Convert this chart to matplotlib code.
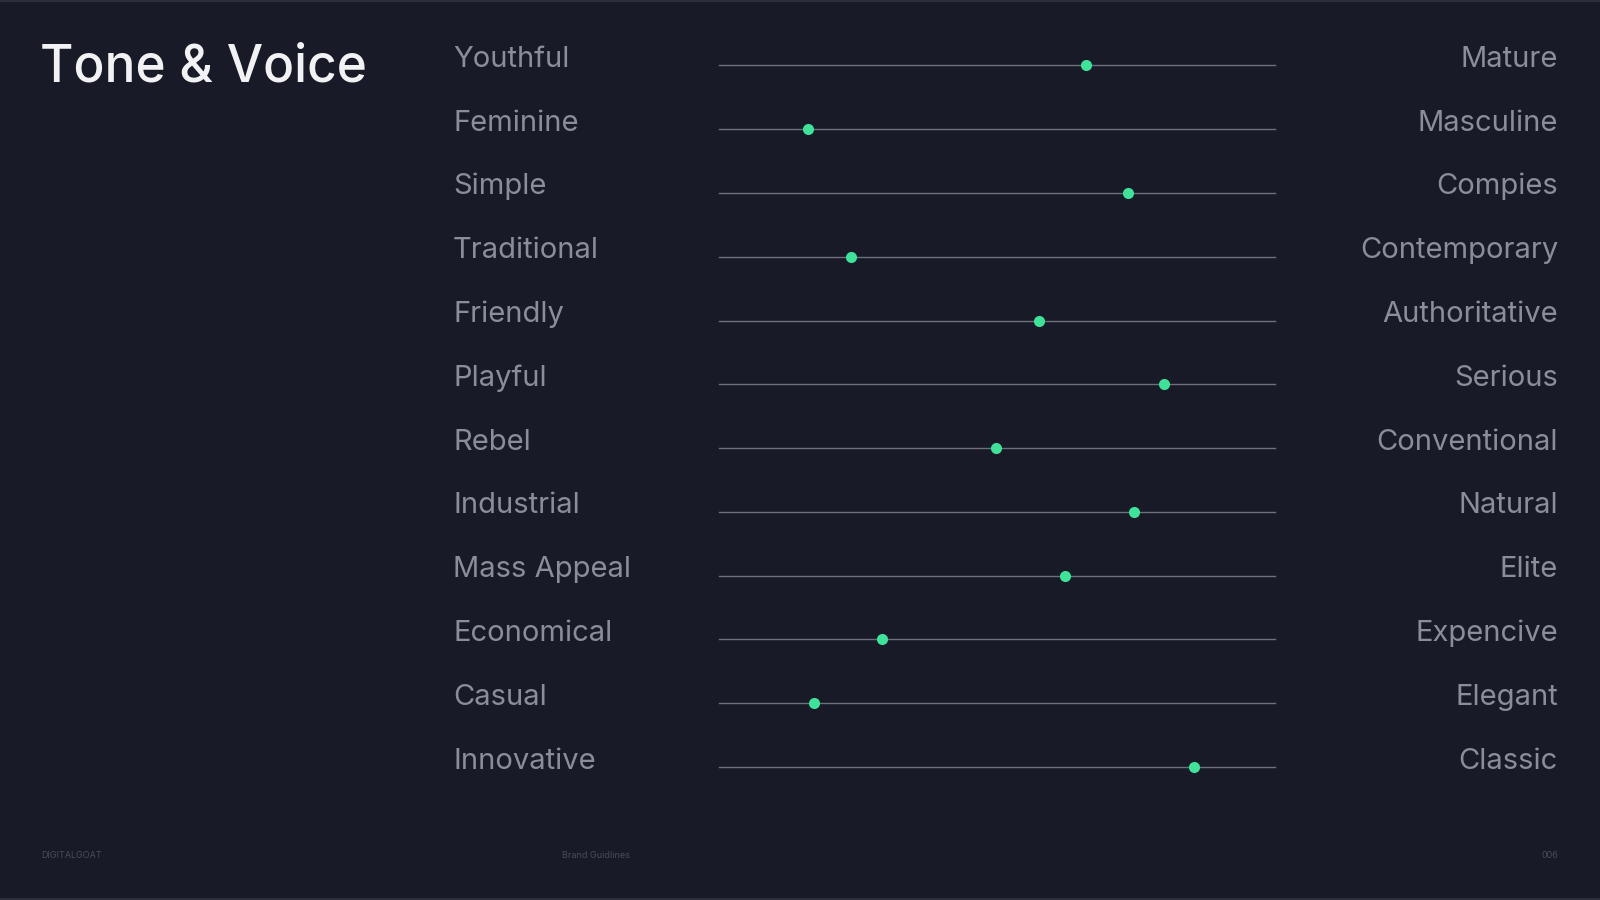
import numpy as np
import matplotlib.pyplot as plt

# slider data (0 = left trait, 100 = right trait)
left_labels = ["Youthful", "Feminine", "Simple", "Traditional", "Friendly", "Playful",
               "Rebel", "Industrial", "Mass Appeal", "Economical", "Casual", "Innovative"]
right_labels = ["Mature", "Masculine", "Compies", "Contemporary", "Authoritative", "Serious",
                "Conventional", "Natural", "Elite", "Expencive", "Elegant", "Classic"]
values = [66, 16, 73.5, 23.8, 57.5, 80, 49.8, 74.6, 62.3, 29.3, 17, 85.5]

bg = "#181b27"
plt.rcParams['font.family'] = ['Inter', 'DejaVu Sans']

fig = plt.figure(figsize=(16, 9), dpi=100, facecolor=bg)
ax = fig.add_axes([0, 0, 1, 1])
ax.set_facecolor(bg)
ax.set_xlim(0, 1600)
ax.set_ylim(900, 0)
ax.axis('off')

# layout in pixel units
y0, dy = 65.3, 63.8
x_start, x_end = 719, 1275

for i, (l, r, v) in enumerate(zip(left_labels, right_labels, values)):
    y = y0 + i * dy
    ax.plot([x_start, x_end], [y, y], color="#6e717a", lw=1.0, zorder=1)
    x = x_start + (x_end - x_start) * v / 100
    ax.plot(x, y, 'o', color="#3ee39a", ms=8, mec='none', zorder=2)
    ax.text(453, y + 1.5, l, color="#8b8e98", fontsize=21, va='baseline', ha='left')
    ax.text(1558, y + 1.5, r, color="#8b8e98", fontsize=21, va='baseline', ha='right')

ax.text(40, 82, "Tone & Voice", color="#f2f2f4", fontsize=37, fontweight='medium',
        va='baseline', ha='left')

# footer
ax.text(41, 855, "DIGITALGOAT", color="#4a4d58", fontsize=6.5, va='center', ha='left')
ax.text(596, 855, "Brand Guidlines", color="#4a4d58", fontsize=6.5, va='center', ha='center')
ax.text(1558, 855, "006", color="#4a4d58", fontsize=6.5, va='center', ha='right')

# thin frame strips at top and bottom
ax.axhline(0.8, color="#2c303b", lw=1.6)
ax.axhline(899.2, color="#2c303b", lw=1.6)

fig.savefig("out.png", dpi=100, facecolor=bg)
